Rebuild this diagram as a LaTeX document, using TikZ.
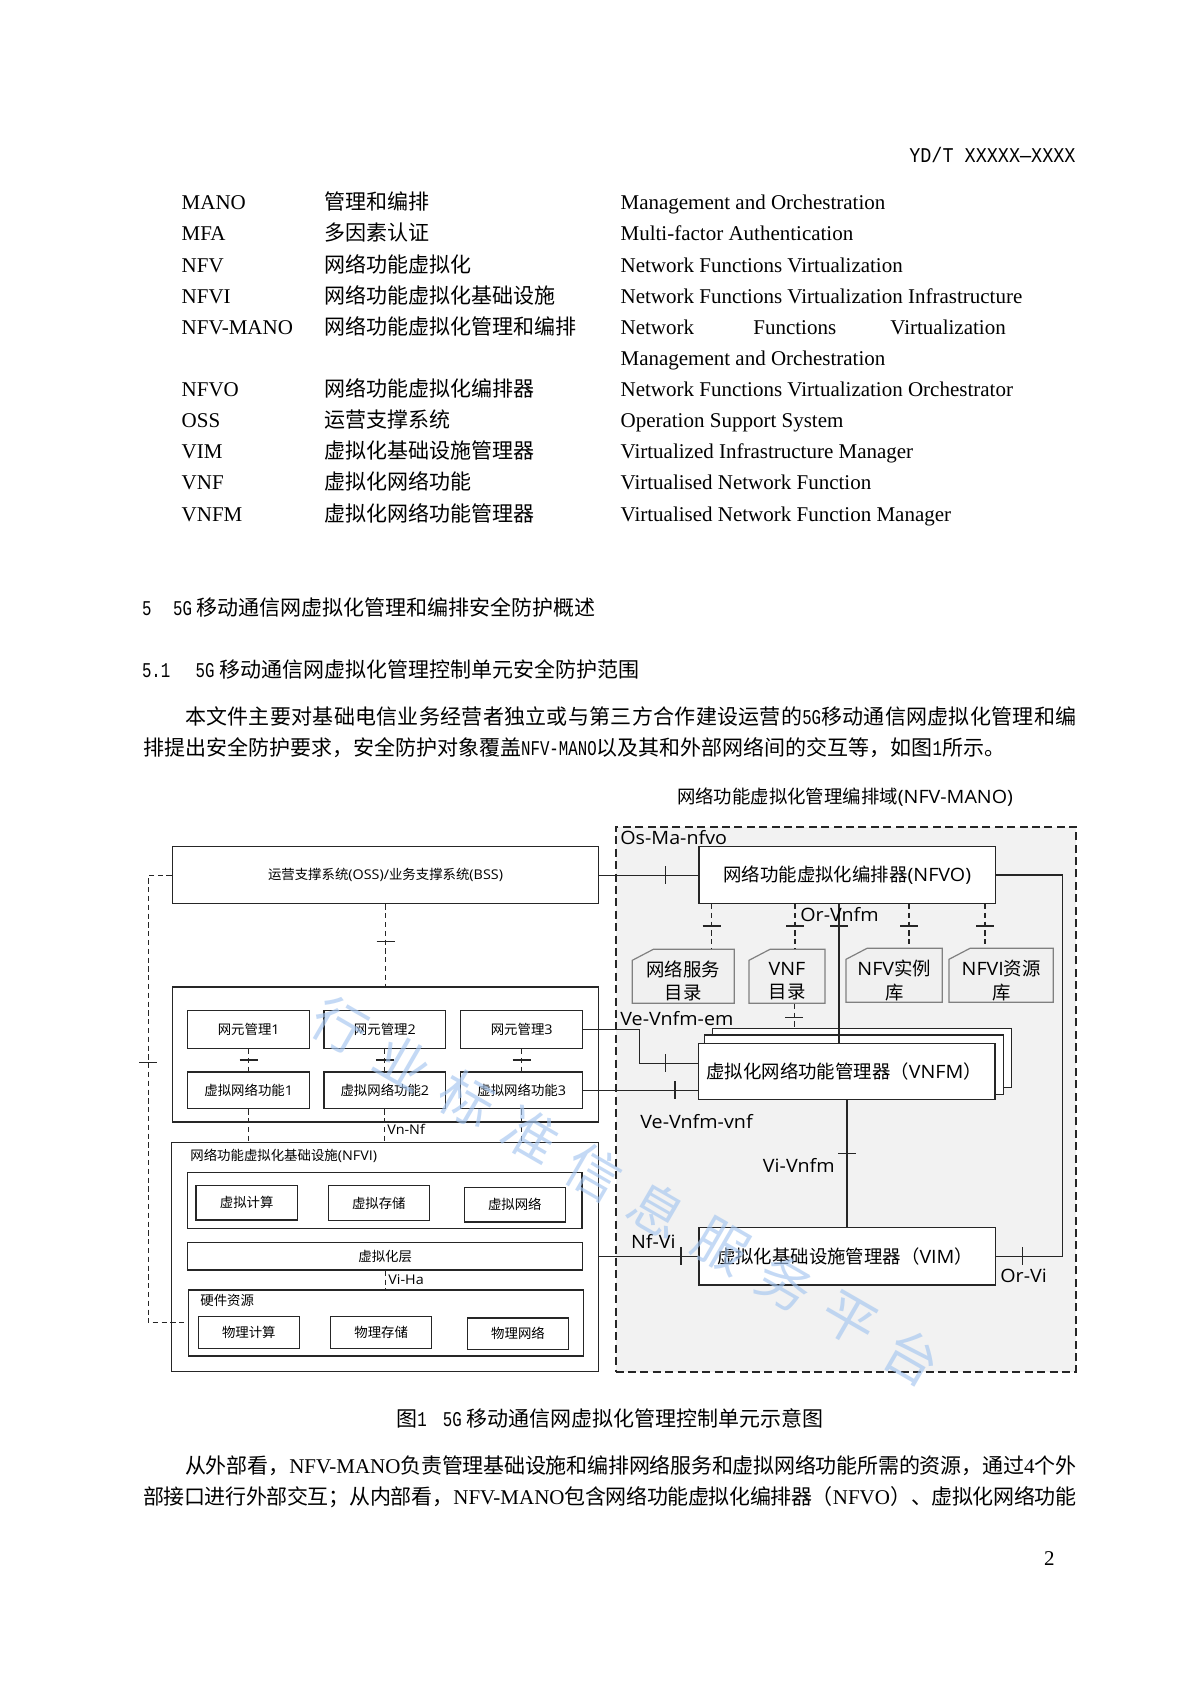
\documentclass[tikz,border=0pt]{standalone}
\usepackage{fontspec}
\setmainfont{Liberation Serif}
\newfontfamily\cjk{Noto Sans CJK SC}
\newfontfamily\osans{Open Sans}[FakeStretch=1.07]
\newfontfamily\nmono{Liberation Mono}[FakeStretch=0.75]
\newfontfamily\hmono{Liberation Mono}[FakeStretch=0.88]
\newcommand\zh[1]{{\cjk #1}}
\newcommand\nm[1]{{\nmono #1}}
\XeTeXlinebreaklocale "zh"
\XeTeXlinebreakskip=0pt plus 1.5pt minus 0.4pt
\usetikzlibrary{fit}
\definecolor{wmblue}{RGB}{165,198,240}
\tikzset{
 bx/.style={draw=black!85, line width=0.7pt, fill=white, inner sep=0pt},
 ln/.style={draw=black!85, line width=0.6pt},
 dl/.style={ln, dash pattern=on 2.6pt off 1.8pt},
 db/.style={draw=black!50, line width=0.6pt, fill=black!6},
 big/.style={font=\osans\fontsize{9.2pt}{10pt}\selectfont, inner sep=0pt},
 sml/.style={font=\osans\fontsize{6.7pt}{8pt}\selectfont, inner sep=0pt},
 body/.style={font=\fontsize{10.5pt}{12.6pt}\selectfont, inner sep=0pt, anchor=base west},
 wm/.style={font=\cjk\fontsize{27pt}{27pt}\selectfont, text=wmblue, opacity=0.65, inner sep=0pt},
 htick/.pic={\draw[ln] (-9,0) -- (9,0);},
 vtick/.pic={\draw[ln] (0,-9) -- (0,9);}
}
\newcommand\bxat[3]{\node[bx, fit={#2 #3}] (#1) {};}
\newcommand\dbat[5]{%
 \draw[db] (#2+21,#3) -- (#4,#3) -- (#4,#5) -- (#2,#5) -- (#2,#3+11) -- cycle;
 \node[fit={(#2,#3) (#4,#5)}, inner sep=0pt] (#1) {};}
\begin{document}
\begin{tikzpicture}[x=0.5pt,y=-0.5pt]
\path[use as bounding box, fill=white] (0,0) rectangle (1190,1683);

% ---------- header and table ----------
\node[body, anchor=base east, font=\hmono\fontsize{10.5pt}{12pt}\selectfont] (hdr) at (1076,162.6) {YD/T XXXXX—XXXX};
\foreach \i/\y/\a/\b/\c in {
 1/209.8/MANO/管理和编排/Management and Orchestration,
 2/240.9/MFA/多因素认证/Multi-factor Authentication,
 3/272/NFV/网络功能虚拟化/Network Functions Virtualization,
 4/303.2/NFVI/网络功能虚拟化基础设施/Network Functions Virtualization Infrastructure,
 6/396.5/NFVO/网络功能虚拟化编排器/Network Functions Virtualization Orchestrator,
 7/427.6/OSS/运营支撑系统/Operation Support System,
 8/458.8/VIM/虚拟化基础设施管理器/Virtualized Infrastructure Manager,
 9/489.9/VNF/虚拟化网络功能/Virtualised Network Function,
 10/521/VNFM/虚拟化网络功能管理器/Virtualised Network Function Manager}
{
 \node[body] (ta\i) at (181.3,\y) {\a};
 \node[body] (tb\i) at (324,\y) {\zh{\b}};
 \node[body] (tc\i) at (620.2,\y) {\c};
}
\node[body] (ta5) at (181.3,334.3) {NFV-MANO};
\node[body] (tb5) at (324,334.3) {\zh{网络功能虚拟化管理和编排}};
\node[body] (tc5a) at (620.2,334.3) {Network};
\node[body] (tc5b) at (753,334.3) {Functions};
\node[body] (tc5c) at (890,334.3) {Virtualization};
\node[body] (tc5d) at (620.2,365.4) {Management and Orchestration};

% ---------- headings and paragraph ----------
\node[body] (h1n) at (141.6,615.5) {\nm{5}};
\node[body, font=\cjk\fontsize{10.5pt}{12.6pt}\selectfont] (h1) at (172.8,615.5) {\nm{5G} 移动通信网虚拟化管理和编排安全防护概述};
\node[body] (h2n) at (141.6,677.7) {\nm{5.1}};
\node[body, font=\cjk\fontsize{10.5pt}{12.6pt}\selectfont] (h2) at (195.3,677.7) {\nm{5G} 移动通信网虚拟化管理控制单元安全防护范围};
\node[body] (p1a) at (184.6,724) {\parbox[b]{445.7pt}{\parfillskip=0pt\relax\zh{本文件主要对基础电信业务经营者独立或与第三方合作建设运营的}\nm{5G}\zh{移动通信网虚拟化管理和编}}};
\node[body] (p1b) at (142.7,755) {\zh{排提出安全防护要求，安全防护对象覆盖}\nm{NFV-MANO}\zh{以及其和外部网络间的交互等，如图}\nm{1}\zh{所示。}};

% ---------- diagram: MANO domain ----------
\node[draw=black!85, fill=black!5, line width=1pt, dash pattern=on 4pt off 2.2pt, inner sep=0pt, fit={(615.5,826.7) (1076,1371.7)}] (mano) {};
\node[big] (manot) at (845,796.7) {\zh{网络功能虚拟化管理编排域}(NFV-MANO)};

% ---------- left side boxes ----------
\bxat{oss}{(172.3,846.7)}{(598.7,903.7)}
\bxat{grp}{(172.3,987)}{(598.7,1122)}
\bxat{em1}{(187.7,1010.7)}{(309.7,1048.3)}
\bxat{em2}{(324,1010.7)}{(445.7,1048.3)}
\bxat{em3}{(460.7,1010.7)}{(582.7,1048.3)}
\bxat{vnf1}{(187.7,1072)}{(309.7,1108.7)}
\bxat{vnf2}{(324,1072)}{(445.7,1108.7)}
\bxat{vnf3}{(460.7,1072)}{(582.7,1108.7)}
\bxat{nfvi}{(171.7,1142.3)}{(598.3,1371.7)}
\bxat{vr}{(187.3,1172.7)}{(582,1228.7)}
\bxat{vc}{(196,1185.3)}{(297.3,1220)}
\bxat{vs}{(328.3,1185.7)}{(429.3,1220.7)}
\bxat{vn}{(464.3,1187.3)}{(565.3,1222)}
\bxat{vl}{(187.7,1242.7)}{(582.7,1270)}
\bxat{hw}{(188.3,1290)}{(583.3,1356)}
\bxat{pc}{(198.3,1316.7)}{(299.3,1348.3)}
\bxat{ps}{(330.7,1316.7)}{(431.7,1348.7)}
\bxat{pn}{(467.7,1318)}{(568.3,1349.3)}

% ---------- MANO boxes ----------
\bxat{nfvo}{(699,846.7)}{(995.7,903.3)}
\dbat{db1}{632.3}{949.3}{734.3}{1003.3}
\dbat{db2}{749}{949.3}{825}{1003.3}
\dbat{db3}{846}{948.3}{942.3}{1002.3}
\dbat{db4}{949}{948.3}{1053.3}{1002.3}
\bxat{vnfmb}{(712.7,1028.3)}{(1011.7,1087.3)}
\bxat{vnfmm}{(704.3,1035)}{(1003.3,1094.3)}
\bxat{vnfm}{(698.3,1043.3)}{(995,1099.3)}
\bxat{vim}{(699,1227.7)}{(995.7,1285)}

% ---------- connectors, left ----------
\coordinate (lc) at (148.3,1322.7);
\draw[dl] (oss.west) -| (lc) -- (lc -| hw.west);
\pic at (148.3,1062.7) {htick};
\draw[dl] (oss.south) -- (oss.south |- grp.north);
\pic at (385.5,941.7) {htick};
\foreach \k in {1,2,3}{
 \draw[dl] (em\k.south) -- (vnf\k.north);
 \draw[dl] (vnf\k.south) -- (vnf\k.south |- nfvi.north);
}
\pic at (248.7,1060) {htick};
\pic at (384.9,1060) {htick};
\pic at (521.7,1060) {htick};
\draw[dl] (vl.south) -- (vl.south |- hw.north);

% ---------- connectors, MANO ----------
\draw[ln] (oss.east) -- (oss.east -| nfvo.west);
\pic at (665.7,875.2) {vtick};
\coordinate (p1) at (711.7,0);
\coordinate (p2) at (795,0);
\coordinate (p3) at (909,0);
\coordinate (p4) at (985,0);
\draw[dl] (p1 |- nfvo.south) -- (p1 |- db1.north);
\draw[dl] (p2 |- nfvo.south) -- (p2 |- db2.north);
\draw[dl] (p3 |- nfvo.south) -- (p3 |- db3.north);
\draw[dl] (p4 |- nfvo.south) -- (p4 |- db4.north);
\foreach \x in {711.7,795,909,985}{\pic at (\x,926) {htick};}
\coordinate (orv) at (839,0);
\draw[ln] (orv |- nfvo.south) -- (orv |- vnfm.north);
\pic at (839,926) {htick};
\coordinate (vd) at (794.3,0);
\draw[dl] (vd |- db2.south) -- (vd |- vnfmb.north);
\pic at (794.3,1017.3) {htick};
\coordinate (ve1) at (639.3,1063.3);
\draw[ln] (em3.east) -| (ve1) -- (ve1 -| vnfm.west);
\pic at (665.7,1063.3) {vtick};
\draw[ln] (vnf3.east) -- (vnf3.east -| vnfm.west);
\pic at (675,1090.3) {vtick};
\coordinate (vv) at (847,0);
\draw[ln] (vv |- vnfm.south) -- (vv |- vim.north);
\pic at (847,1153.7) {htick};
\draw[ln] (vim.west -| nfvi.east) -- (vim.west);
\pic at (681,1256.3) {vtick};
\coordinate (orc) at (1062.7,0);
\draw[ln] (nfvo.east) -| (orc |- vim.east) -- (vim.east);
\pic at (1022.7,1256.3) {vtick};

% ---------- diagram texts ----------
\node[sml] (osst) at (oss) {\zh{运营支撑系统}(OSS)/\zh{业务支撑系统}(BSS)};
\node[sml] (em1t) at (em1) {\zh{网元管理}1};
\node[sml] (em2t) at (em2) {\zh{网元管理}2};
\node[sml] (em3t) at (em3) {\zh{网元管理}3};
\node[sml] (vnf1t) at (vnf1) {\zh{虚拟网络功能}1};
\node[sml] (vnf2t) at (vnf2) {\zh{虚拟网络功能}2};
\node[sml] (vnf3t) at (vnf3) {\zh{虚拟网络功能}3};
\node[sml, anchor=west] (vnnf) at (387,1129.3) {Vn-Nf};
\node[sml, anchor=west] (nfvit) at (190,1156) {\zh{网络功能虚拟化基础设施}(NFVI)};
\node[sml] (vct) at (vc) {\zh{虚拟计算}};
\node[sml] (vst) at (vs) {\zh{虚拟存储}};
\node[sml] (vnt) at (vn) {\zh{虚拟网络}};
\node[sml] (vlt) at (vl) {\zh{虚拟化层}};
\node[sml, anchor=west] (viha) at (388,1280) {Vi-Ha};
\node[sml, anchor=west] (hwt) at (200,1300.7) {\zh{硬件资源}};
\node[sml] (pct) at (pc) {\zh{物理计算}};
\node[sml] (pst) at (ps) {\zh{物理存储}};
\node[sml] (pnt) at (pn) {\zh{物理网络}};

\node[big, anchor=west] (osma) at (620,838) {Os-Ma-nfvo};
\node[big] (nfvot) at (nfvo) {\zh{网络功能虚拟化编排器}(NFVO)};
\node[big, anchor=west] (orvt) at (800,915) {Or-Vnfm};
\node[big, align=center] (db1t) at (683.3,981) {\zh{网络服务}\\[1.8pt]\zh{目录}};
\node[big, align=center] (db2t) at (787,981) {VNF\\[1.8pt]\zh{目录}};
\node[big, align=center] (db3t) at (894.2,980.5) {NFV\zh{实例}\\[1.8pt]\zh{库}};
\node[big, align=center] (db4t) at (1001.2,980.5) {NFVI\zh{资源}\\[1.8pt]\zh{库}};
\node[big, anchor=west] (veem) at (620,1019) {Ve-Vnfm-em};
\node[big, anchor=west] (vnfmt) at (706,1071.7) {\zh{虚拟化网络功能管理器（}VNFM\zh{）}};
\node[big, anchor=west] (vevnf) at (640,1121.7) {Ve-Vnfm-vnf};
\node[big, anchor=east] (vivnfm) at (835,1165) {Vi-Vnfm};
\node[big, anchor=west] (vimt) at (716.7,1256.7) {\zh{虚拟化基础设施管理器（}VIM\zh{）}};
\node[big, anchor=west] (nfvil) at (630.7,1241.7) {Nf-Vi};
\node[big, anchor=west] (orvi) at (1000,1275.7) {Or-Vi};

% ---------- caption and paragraph ----------
\node[body, anchor=base, font=\cjk\fontsize{10.5pt}{12.6pt}\selectfont] (cap) at (610,1426.7) {图\nm{1}\hspace{8pt}\nm{5G} 移动通信网虚拟化管理控制单元示意图};
\node[body] (p2a) at (184.6,1473) {\parbox[b]{445.7pt}{\parfillskip=0pt\relax\zh{从外部看，}NFV-MANO\zh{负责管理基础设施和编排网络服务和虚拟网络功能所需的资源，通过}4\zh{个外}}};
\node[body] (p2b) at (142.7,1504) {\parbox[b]{466.6pt}{\parfillskip=0pt\relax\zh{部接口进行外部交互；从内部看，}NFV-MANO\zh{包含网络功能虚拟化编排器（}NFVO\zh{）、虚拟化网络功能}}};
\node[body, anchor=base] (pg) at (1049.4,1565) {2};

% ---------- watermark ----------
\foreach \ch [count=\k from 0] in {行,业,标,准,信,息,服,务,平,台}{
 \node[wm, rotate=-30] (wm\k) at ({340+\k*63.6},{1025+\k*36.9}) {\ch};
}
\end{tikzpicture}
\end{document}
